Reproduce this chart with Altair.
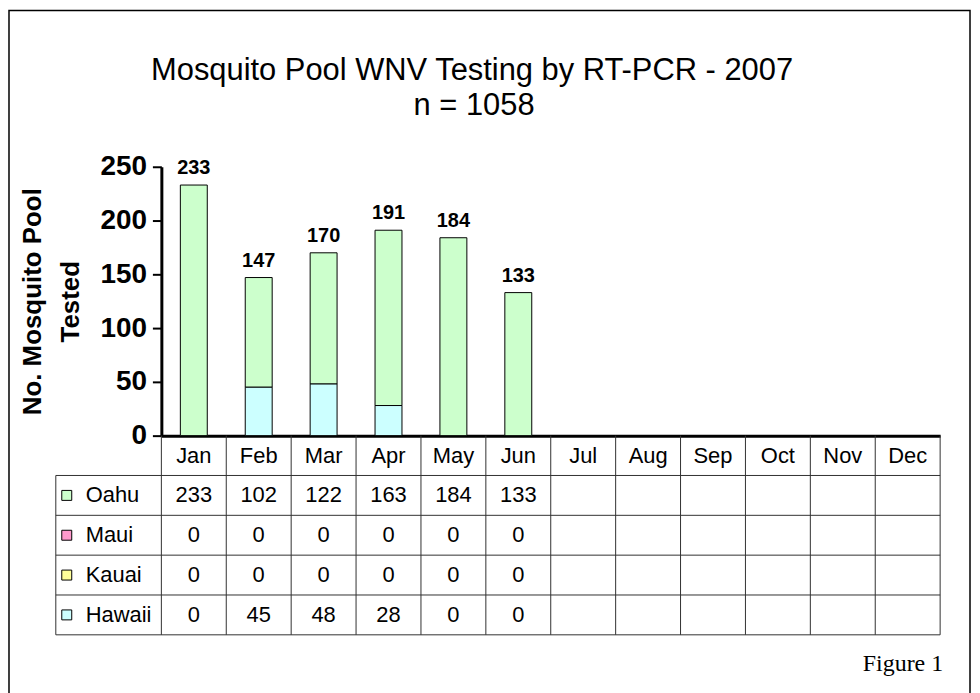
import altair as alt
import pandas as pd

# ---------------- data ----------------
months = ["Jan", "Feb", "Mar", "Apr", "May", "Jun", "Jul", "Aug", "Sep", "Oct", "Nov", "Dec"]
islands = ["Oahu", "Maui", "Kauai", "Hawaii"]
oahu = [233, 102, 122, 163, 184, 133, None, None, None, None, None, None]
maui = [0, 0, 0, 0, 0, 0, None, None, None, None, None, None]
kauai = [0, 0, 0, 0, 0, 0, None, None, None, None, None, None]
hawaii = [0, 45, 48, 28, 0, 0, None, None, None, None, None, None]
totals = [233, 147, 170, 191, 184, 133]
island_colors = ["#CCFFCC", "#FF99CC", "#FFFF99", "#CCFFFF"]
y_ticks = [0, 50, 100, 150, 200, 250]
title_line1 = "Mosquito Pool WNV Testing by RT-PCR - 2007"
title_line2 = "n = 1058"
y_title = ["No. Mosquito Pool", "Tested"]
figure_label = "Figure 1"

series = {"Oahu": oahu, "Maui": maui, "Kauai": kauai, "Hawaii": hawaii}
rows = []
for r, isl in enumerate(islands):
    for m, v in zip(months, series[isl]):
        rows.append({"island": isl, "month": m, "value": v,
                     "row": r + 1.5, "stack_order": len(islands) - 1 - r})
long_df = pd.DataFrame(rows)
bars_df = long_df[long_df["value"].fillna(0) > 0].copy()
table_df = long_df[long_df["value"].notna()].copy()
legend_df = pd.DataFrame({"island": islands, "row": [i + 1.5 for i in range(len(islands))]})
totals_df = pd.DataFrame({"month": months[:len(totals)], "total": totals})
months_df = pd.DataFrame({"month": months})
hlines_df = pd.DataFrame({"b": [1, 2, 3, 4, 5]})
one = pd.DataFrame({"t": [0]})

# ---------------- layout ----------------
W, H = 782, 270
TABLE_H = 200
FONT = "Liberation Sans"

band_bar = alt.Scale(domain=months, paddingInner=0.585, paddingOuter=0.2925)
band_tab = alt.Scale(domain=months, paddingInner=0, paddingOuter=0)
y_val = alt.Scale(domain=[0, 250], nice=False, zero=True)
y_row = alt.Scale(domain=[0, 5], range=[H, H + TABLE_H], nice=False, zero=False)
color = alt.Color("island:N", scale=alt.Scale(domain=islands, range=island_colors), legend=None)

bars = alt.Chart(bars_df).mark_bar(stroke="black", strokeWidth=1).encode(
    x=alt.X("month:N", scale=band_bar,
            axis=alt.Axis(labels=False, ticks=False, title=None, domainColor="black",
                          domainWidth=3, grid=False)),
    y=alt.Y("value:Q", stack="zero", scale=y_val,
            axis=alt.Axis(values=y_ticks, title=y_title, grid=False,
                          labelFont=FONT, labelFontSize=28, labelFontWeight="bold",
                          labelColor="black", labelPadding=6,
                          tickSize=9, tickWidth=2, tickColor="black",
                          domainColor="black", domainWidth=3,
                          titleFont=FONT, titleFontSize=26, titleFontWeight="bold",
                          titleColor="black", titleLineHeight=38, titleAngle=270,
                          titleX=-129, titleY=135, titleBaseline="middle",
                          titleAlign="center")),
    color=color,
    order=alt.Order("stack_order:Q"),
)

bar_labels = alt.Chart(totals_df).mark_text(
    font=FONT, fontSize=20, fontWeight="bold", baseline="alphabetic", dy=-11, color="black"
).encode(
    x=alt.X("month:N", scale=band_bar, axis=None),
    y=alt.Y("total:Q", scale=y_val, axis=None),
    text=alt.Text("total:Q", format="d"),
)

LINE = "#303030"
vlines = alt.Chart(months_df).mark_rule(color=LINE, strokeWidth=1).encode(
    x=alt.X("month:N", scale=band_tab, bandPosition=0, axis=None),
    y=alt.YDatum(0, scale=y_row, axis=None),
    y2=alt.Y2Datum(5),
)
right_border = alt.Chart(one).mark_rule(color=LINE, strokeWidth=1).encode(
    x=alt.value(W), y=alt.YDatum(0, scale=y_row, axis=None), y2=alt.Y2Datum(5))
left_border = alt.Chart(one).mark_rule(color=LINE, strokeWidth=1).encode(
    x=alt.value(-106), y=alt.YDatum(1, scale=y_row, axis=None), y2=alt.Y2Datum(5))
hlines = alt.Chart(hlines_df).mark_rule(color=LINE, strokeWidth=1).encode(
    y=alt.Y("b:Q", scale=y_row, axis=None), x=alt.value(-106), x2=alt.value(W))

month_text = alt.Chart(months_df).mark_text(font=FONT, fontSize=22, color="black").encode(
    x=alt.X("month:N", scale=band_tab, axis=None),
    y=alt.YDatum(0.5, scale=y_row, axis=None),
    text="month:N",
)
value_text = alt.Chart(table_df).mark_text(font=FONT, fontSize=22, color="black").encode(
    x=alt.X("month:N", scale=band_tab, axis=None),
    y=alt.Y("row:Q", scale=y_row, axis=None),
    text=alt.Text("value:Q", format="d"),
)
legend_sq = alt.Chart(legend_df).mark_square(size=100, stroke="black", strokeWidth=1,
                                              opacity=1, filled=True).encode(
    x=alt.value(-95), y=alt.Y("row:Q", scale=y_row, axis=None), color=color)
legend_txt = alt.Chart(legend_df).mark_text(font=FONT, fontSize=22, align="left",
                                             color="black").encode(
    x=alt.value(-76), y=alt.Y("row:Q", scale=y_row, axis=None), text="island:N")

title1 = alt.Chart(pd.DataFrame({"t": [title_line1]})).mark_text(
    font=FONT, fontSize=31, baseline="middle", color="black"
).encode(x=alt.value(312), y=alt.value(-96), text="t:N")
title2 = alt.Chart(pd.DataFrame({"t": [title_line2]})).mark_text(
    font=FONT, fontSize=31, baseline="middle", color="black"
).encode(x=alt.value(314), y=alt.value(-61), text="t:N")
fig_txt = alt.Chart(pd.DataFrame({"t": [figure_label]})).mark_text(
    font="Liberation Serif", fontSize=24, align="right", baseline="alphabetic", color="black"
).encode(x=alt.value(785), y=alt.value(506), text="t:N")
frame = alt.Chart(one).mark_rect(fillOpacity=0, stroke="black", strokeWidth=1.5).encode(
    x=alt.value(-153), x2=alt.value(812), y=alt.value(-157), y2=alt.value(545))

chart = alt.layer(
    frame, vlines, right_border, left_border, hlines, bars, bar_labels,
    month_text, value_text, legend_sq, legend_txt, title1, title2, fig_txt
).resolve_scale(x="independent", y="independent").properties(
    width=W, height=H,
    autosize=alt.AutoSizeParams(type="none"),
    padding={"left": 154, "top": 158, "right": 32, "bottom": 257},
).configure_view(stroke=None)

chart.save("out.html", embed_options={"renderer": "svg", "actions": False})
